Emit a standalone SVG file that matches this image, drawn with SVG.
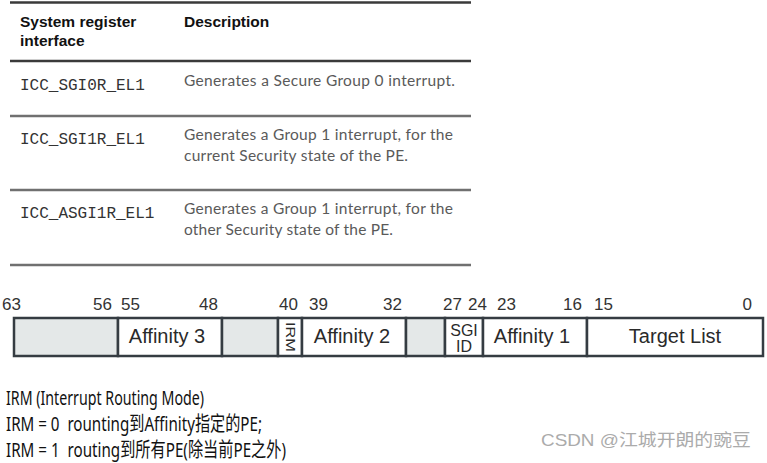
<svg xmlns="http://www.w3.org/2000/svg" width="767" height="463" viewBox="0 0 767 463">
<style>
.rule{stroke:#3a3a3a;stroke-width:2.5}
.rule2{stroke:#707070;stroke-width:2.5}
.hdr{font-family:"Liberation Sans",Arial,sans-serif;font-weight:bold;font-size:15.5px;fill:#111}
.reg{font-family:"Liberation Mono","Courier New",monospace;font-size:16px;fill:#333}
.desc{font-family:Lato,"Open Sans",sans-serif;font-size:15.5px;fill:#5a5a5a}
.bit{font-family:"Liberation Sans",Arial,sans-serif;font-size:17px;fill:#333}
.fld{font-family:"Liberation Sans",Arial,sans-serif;font-size:20px;fill:#2a2a2a;text-anchor:middle}
.box{fill:#fff;stroke:#353c42;stroke-width:2.5}
.res{fill:#e4e8e8;stroke:#353c42;stroke-width:2.5}
.note{font-family:"Noto Sans","Noto Sans CJK SC",sans-serif;font-size:20.5px;fill:#111}
.wm{font-family:"Liberation Sans","Noto Sans CJK SC",sans-serif;font-size:17px;fill:#ababab}
</style>
<g id="table">
<line class="rule" x1="10" y1="2.5" x2="471" y2="2.5"/>
<line class="rule" x1="10" y1="61" x2="471" y2="61"/>
<line class="rule2" x1="10" y1="116" x2="471" y2="116"/>
<line class="rule2" x1="10" y1="190" x2="471" y2="190"/>
<line class="rule2" x1="10" y1="265" x2="471" y2="265"/>
<text class="hdr" x="20" y="27">System register</text>
<text class="hdr" x="20" y="46">interface</text>
<text class="hdr" x="184" y="27">Description</text>
<text class="reg" x="20" y="90">ICC_SGI0R_EL1</text>
<text class="desc" x="184" y="86" textLength="271">Generates a Secure Group 0 interrupt.</text>
<text class="reg" x="20" y="144">ICC_SGI1R_EL1</text>
<text class="desc" x="184" y="140" textLength="269">Generates a Group 1 interrupt, for the</text>
<text class="desc" x="184" y="161" textLength="224">current Security state of the PE.</text>
<text class="reg" x="20" y="218">ICC_ASGI1R_EL1</text>
<text class="desc" x="184" y="214" textLength="269">Generates a Group 1 interrupt, for the</text>
<text class="desc" x="184" y="235" textLength="209">other Security state of the PE.</text>
</g>
<g id="register">
<rect class="res" x="14" y="318" width="104" height="38"/>
<rect class="box" x="118" y="318" width="104" height="38"/>
<rect class="res" x="222" y="318" width="56" height="38"/>
<rect class="box" x="278" y="318" width="24" height="38"/>
<rect class="box" x="302" y="318" width="104" height="38"/>
<rect class="res" x="406" y="318" width="39" height="38"/>
<rect class="box" x="445" y="318" width="38" height="38"/>
<rect class="box" x="483" y="318" width="104" height="38"/>
<rect class="box" x="587" y="318" width="176" height="38"/>
<text class="bit" x="2" y="310">63</text>
<text class="bit" x="112" y="310" text-anchor="end">56</text>
<text class="bit" x="121" y="310">55</text>
<text class="bit" x="218" y="310" text-anchor="end">48</text>
<text class="bit" x="279" y="310">40</text>
<text class="bit" x="309" y="310">39</text>
<text class="bit" x="402" y="310" text-anchor="end">32</text>
<text class="bit" x="443" y="310">27</text>
<text class="bit" x="468" y="310">24</text>
<text class="bit" x="497" y="310">23</text>
<text class="bit" x="582" y="310" text-anchor="end">16</text>
<text class="bit" x="594" y="310">15</text>
<text class="bit" x="752" y="310" text-anchor="end">0</text>
<text class="fld" x="167" y="343">Affinity 3</text>
<text class="fld" x="352" y="343">Affinity 2</text>
<text class="fld" x="532" y="343">Affinity 1</text>
<text class="fld" x="675" y="343">Target List</text>
<text font-family="Liberation Sans,Arial,sans-serif" font-size="13" fill="#2a2a2a" text-anchor="middle" transform="translate(286,337) rotate(90)" textLength="30" lengthAdjust="spacingAndGlyphs">IRM</text>
<text class="fld" style="font-size:16px" x="464" y="336">SGI</text>
<text class="fld" style="font-size:16px" x="464" y="352">ID</text>
</g>
<g id="notes">
<text class="note" x="6" y="405" textLength="198" lengthAdjust="spacingAndGlyphs">IRM (Interrupt Routing Mode)</text>
<text class="note" x="6" y="431" textLength="256" lengthAdjust="spacingAndGlyphs" xml:space="preserve">IRM = 0  rounting到Affinity指定的PE;</text>
<text class="note" x="6" y="457" textLength="280" lengthAdjust="spacingAndGlyphs" xml:space="preserve">IRM = 1  routing到所有PE(除当前PE之外)</text>
<text class="wm" x="541" y="446" textLength="210" lengthAdjust="spacingAndGlyphs">CSDN @江城开朗的豌豆</text>
</g>
</svg>
